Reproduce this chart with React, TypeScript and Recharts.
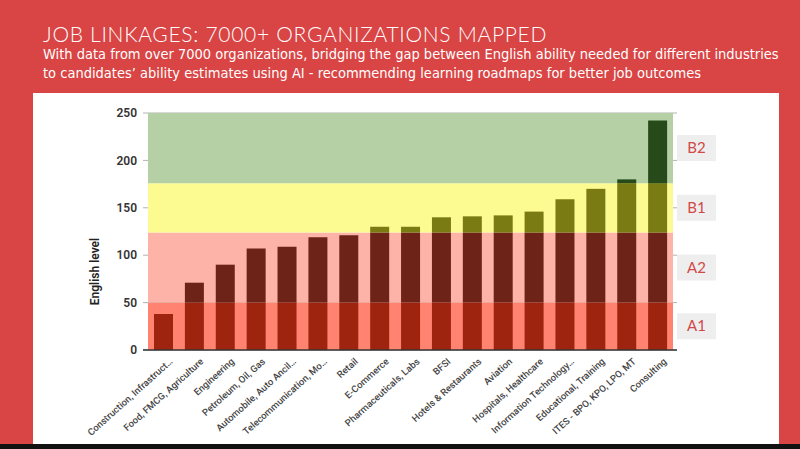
import {
  ComposedChart,
  Bar,
  XAxis,
  YAxis,
  CartesianGrid,
  ReferenceArea,
} from "recharts";

const industries = [
  "Construction, Infrastruct…",
  "Food, FMCG, Agriculture",
  "Engineering",
  "Petroleum, Oil, Gas",
  "Automobile, Auto Ancil…",
  "Telecommunication, Mo…",
  "Retail",
  "E-Commerce",
  "Pharmaceuticals, Labs",
  "BFSI",
  "Hotels & Restaurants",
  "Aviation",
  "Hospitals, Healthcare",
  "Information Technology…",
  "Educational, Training",
  "ITES - BPO, KPO, LPO, MT",
  "Consulting",
];

const englishLevel = [38, 71, 90, 107, 109, 119, 121, 130, 130, 140, 141, 142, 146, 159, 170, 180, 242];

const yTicks = [0, 50, 100, 150, 200, 250];

// CEFR bands on the English level scale
const bandNames = ["A1", "A2", "B1", "B2"];
const bandFrom = [0, 50, 124, 176];
const bandTo = [50, 124, 176, 250];

const bandFill = ["#ff8370", "#fdb3a8", "#fbfb91", "#b5d0a5"];
const barFill = ["#9e2410", "#6e2318", "#7b7b14", "#274a1b"];

// split each level into the part that falls inside each band
const rows = industries.map((name, i) => {
  const v = englishLevel[i];
  const row: Record<string, number | string> = { name, level: v };
  bandNames.forEach((b, k) => {
    row[b] = Math.max(0, Math.min(v, bandTo[k]) - bandFrom[k]);
  });
  return row;
});

const BandTag = (props: any) => {
  const { viewBox, value } = props;
  const x = viewBox.x + viewBox.width + 4;
  const cy = viewBox.y + viewBox.height / 2;
  return (
    <g>
      <rect x={x} y={cy - 13} width={39} height={26} fill="#eeeeee" />
      <text
        x={x + 19.5}
        y={cy + 5}
        textAnchor="middle"
        fill="#d24848"
        fontSize={15}
        fontFamily="Lato, 'Open Sans', sans-serif"
      >
        {value}
      </text>
    </g>
  );
};

const AxisTitle = (props: any) => {
  const { viewBox } = props;
  const x = viewBox.x + 66;
  const y = viewBox.y + viewBox.height / 2 + 40;
  return (
    <text
      x={x}
      y={y}
      transform={`rotate(-90 ${x} ${y})`}
      textAnchor="middle"
      fill="#222"
      fontSize={12}
      fontWeight={600}
      fontFamily="Roboto, Arial, sans-serif"
    >
      English level
    </text>
  );
};

const IndustryTick = (props: any) => {
  const { x, y, payload } = props;
  const tx = x + 5;
  const ty = y - 1;
  return (
    <text
      x={tx}
      y={ty}
      transform={`rotate(-42 ${tx} ${ty})`}
      textAnchor="end"
      dominantBaseline="hanging"
      fill="#444"
      fontSize={9.5}
      fontWeight={500}
      fontFamily="Roboto, Arial, sans-serif"
    >
      {payload.value}
    </text>
  );
};

const App = () => {
  return (
    <div
      style={{
        position: "absolute",
        left: 0,
        top: 0,
        width: 800,
        height: 449,
        background: "#d94444",
        overflow: "hidden",
        fontFamily: "Lato, 'Open Sans', sans-serif",
      }}
    >
      <div
        style={{
          position: "absolute",
          left: 43,
          top: 21,
          color: "#fff",
          fontSize: 21,
          fontWeight: 300,
          letterSpacing: 0.7,
          whiteSpace: "nowrap",
        }}
      >
        JOB LINKAGES: 7000+ ORGANIZATIONS MAPPED
      </div>
      <div
        style={{
          position: "absolute",
          left: 43,
          top: 45,
          color: "#fff",
          fontSize: 14.5,
          lineHeight: "19px",
          fontFamily: "'Liberation Sans Narrow', 'DejaVu Sans Condensed', sans-serif",
          whiteSpace: "nowrap",
        }}
      >
        With data from over 7000 organizations, bridging the gap between English ability needed for different industries
        <br />
        to candidates’ ability estimates using AI - recommending learning roadmaps for better job outcomes
      </div>

      <div style={{ position: "absolute", left: 33, top: 93, width: 746, height: 351, background: "#fff" }}>
        <ComposedChart
          width={746}
          height={351}
          data={rows}
          margin={{ top: 20, right: 102, left: 0, bottom: 0 }}
          barSize={19}
        >
          {bandNames.map((b, k) => (
            <ReferenceArea
              key={b}
              y1={bandFrom[k]}
              y2={bandTo[k]}
              fill={bandFill[k]}
              fillOpacity={1}
              stroke="none"
              label={<BandTag value={b} />}
            />
          ))}
          <CartesianGrid vertical={false} stroke="#555" strokeOpacity={0.45} />
          <XAxis
            dataKey="name"
            interval={0}
            axisLine={{ stroke: "#333", strokeWidth: 1.5 }}
            tickLine={false}
            padding={{ left: 5, right: 4 }}
            height={94}
            tick={<IndustryTick />}
          />
          <YAxis
            domain={[0, 250]}
            ticks={yTicks}
            width={110}
            axisLine={false}
            tickLine={false}
            tickSize={0}
            tickMargin={6}
            tick={{ fill: "#333", fontSize: 12, fontWeight: 600, fontFamily: "Roboto, Arial, sans-serif" }}
            label={<AxisTitle />}
          />
          {bandNames.map((b, k) => (
            <Bar key={b} dataKey={b} stackId="level" fill={barFill[k]} isAnimationActive={false} />
          ))}
        </ComposedChart>
      </div>

      <div style={{ position: "absolute", left: 0, top: 444, width: 800, height: 5, background: "#111" }} />
    </div>
  );
};

export default App;
